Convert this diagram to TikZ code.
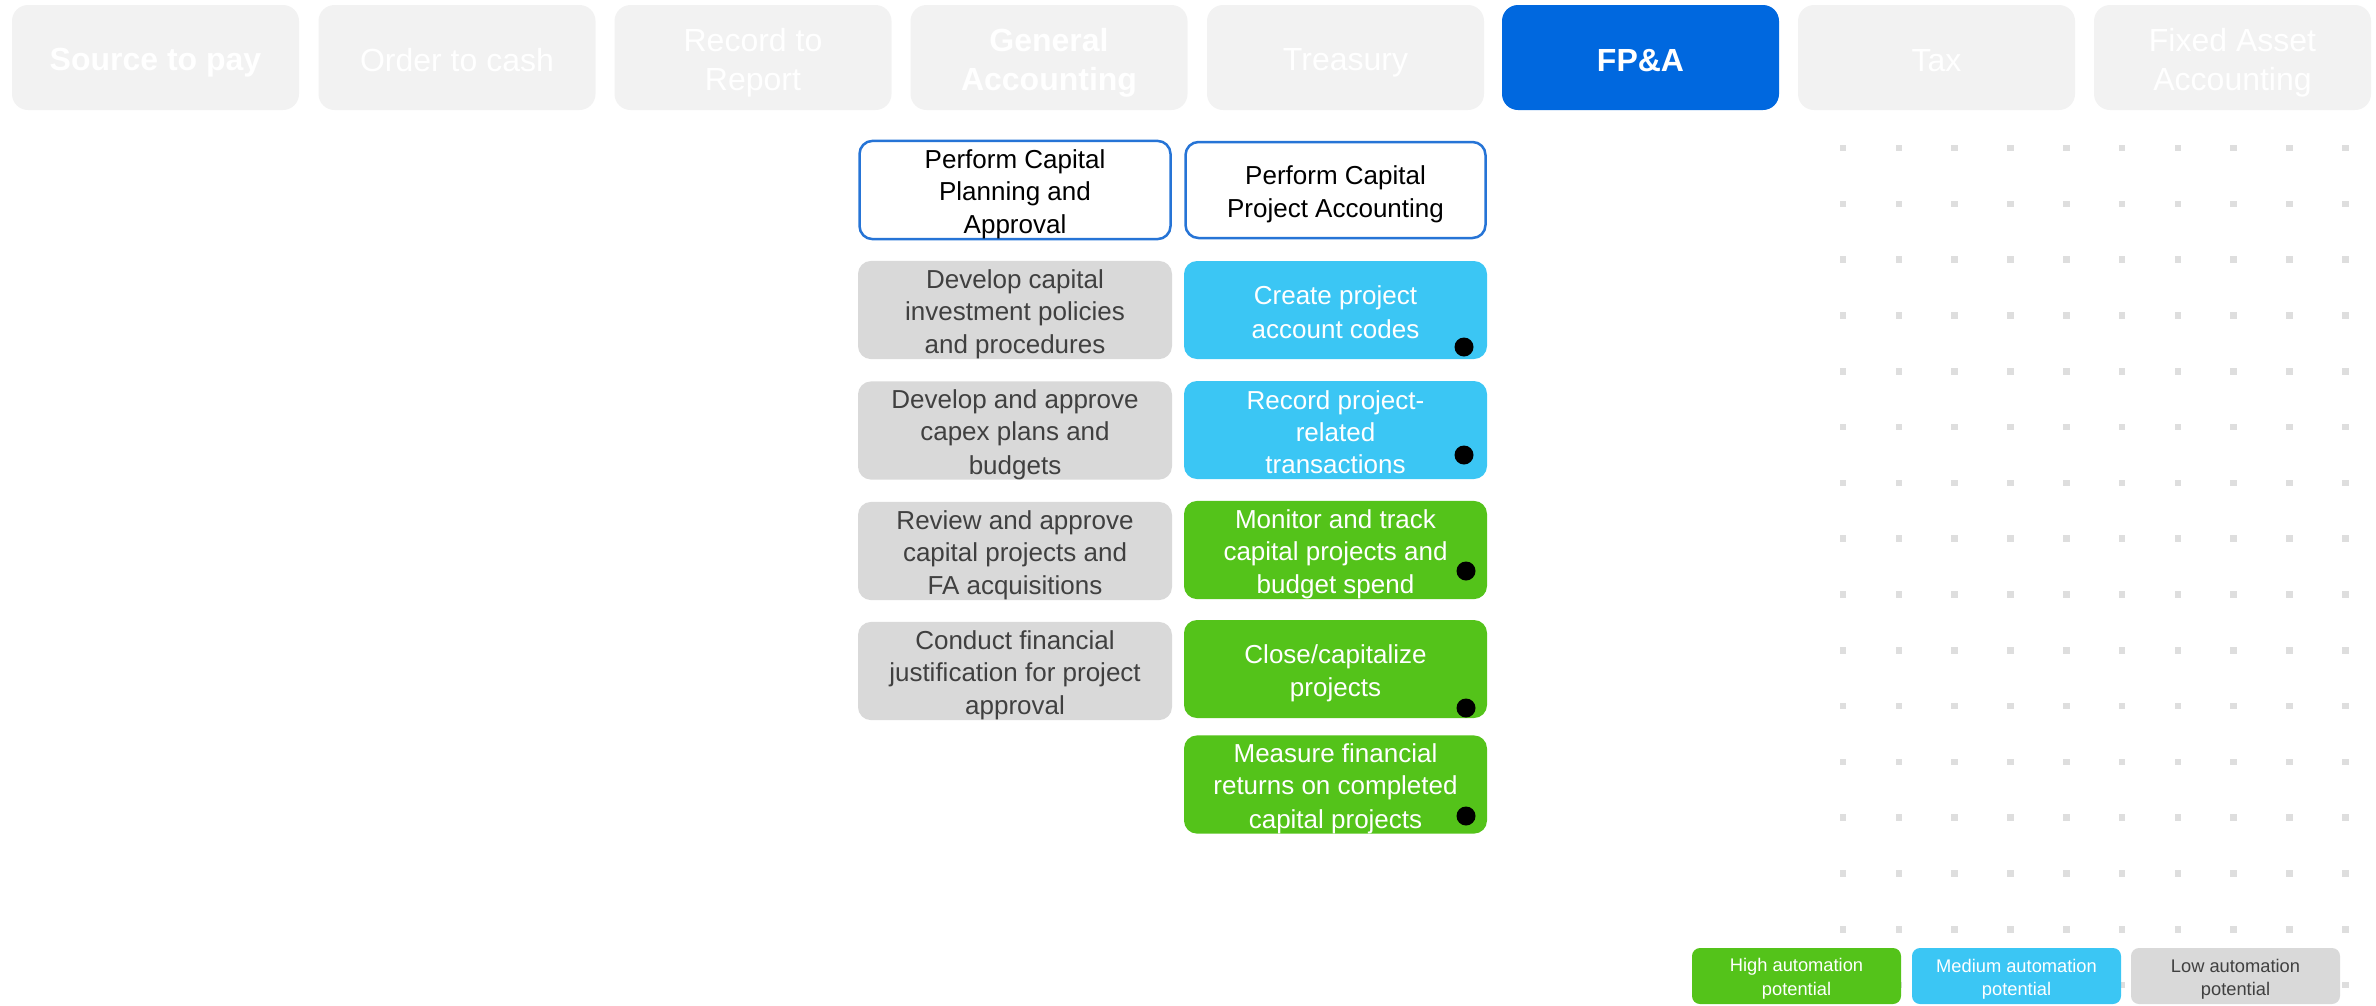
\documentclass[tikz,border=0pt]{standalone}
\usepackage{fontspec}
\setmainfont{Liberation Sans}
\usepackage{xcolor}
\definecolor{tabgray}{HTML}{F2F2F2}
\definecolor{fpablue}{RGB}{0,104,223}
\definecolor{headblue}{RGB}{38,116,214}
\definecolor{medcyan}{RGB}{59,198,244}
\definecolor{highgreen}{RGB}{84,195,26}
\definecolor{lowgray}{HTML}{D9D9D9}
\definecolor{darktext}{RGB}{64,64,64}
\definecolor{gridgray}{HTML}{DEDEDE}
\newcommand{\ls}{\rule[-.15\baselineskip]{0pt}{\baselineskip}}

\begin{document}
\begin{tikzpicture}
    [x=1pt, y=-1pt,
 tab/.style ={rectangle, fill=tabgray, text=white, rounded corners=16pt, minimum width=277pt, minimum height=105pt, inner sep=0pt, align=center, font=\fontsize{32}{39}\selectfont},
 tabon/.style ={tab, fill=fpablue, font=\fontsize{32}{39}\selectfont\bfseries},
 head/.style ={rectangle, draw=headblue, line width=2.5pt, fill=white, rounded corners=13pt, minimum height=96pt, inner sep=0pt, align=center, font=\fontsize{26}{32}\selectfont},
 task/.style ={rectangle, rounded corners=13pt, minimum height=98pt, inner sep=0pt, align=center, font=\fontsize{26}{32}\selectfont},
 low/.style ={task, fill=lowgray, text=darktext, minimum width=314pt},
 med/.style ={task, fill=medcyan, text=white, minimum width=303pt},
 high/.style ={task, fill=highgreen, text=white, minimum width=303pt},
 blackdot/.style ={circle, fill=black, minimum size=19pt, inner sep=0pt},
 key/.style ={rectangle, rounded corners=8pt, minimum width=209pt, minimum height=56pt, inner sep=0pt, align=center, font=\fontsize{18.3}{22.7}\selectfont}]
        \useasboundingbox (0,0) rectangle (2376,1005);
        % process tabs
        \node[tab, minimum width=287pt, font=\fontsize{32}{39}\selectfont\bfseries] (s2p) at (155.5, 57.5) {\ls Source to pay\ls};
        \node[tab] (o2c) at (457, 57.5) {\ls Order to cash\ls};
        \node[tab] (r2r) at (753, 57.5) {\ls Record to\\Report\ls};
        \node[tab, font=\fontsize{32}{39}\selectfont\bfseries] (gacc) at (1049, 57.5) {\ls General\\Accounting\ls};
        \node[tab] (treas) at (1345.5, 57.5) {\ls Treasury\ls};
        \node[tabon] (fpa) at (1640.5, 57.5) {\ls FP\&A\ls};
        \node[tab] (tax) at (1936.5, 57.5) {\ls Tax\ls};
        \node[tab] (faa) at (2232.5, 57.5) {\ls Fixed Asset\\Accounting\ls};
        % dot grid
        \foreach \i in {0,...,9}
          \foreach \j in {0,...,15}
            \fill[gridgray] (1843+55.8*\i-3.3, 148+55.8*\j-3.3) rectangle ++(6.6, 6.6);
        % planning column
        \node[head, minimum width=311pt] (plan) at (1015, 190) {\ls Perform Capital\\Planning and\\Approval\ls};
        \node[low] (plan1) at (1015, 310) {\ls Develop capital\\investment policies\\and procedures\ls};
        \node[low] (plan2) at (1015, 430.5) {\ls Develop and approve\\capex plans and\\budgets\ls};
        \node[low] (plan3) at (1015, 551) {\ls Review and approve\\capital projects and\\FA acquisitions\ls};
        \node[low] (plan4) at (1015, 671) {\ls Conduct financial\\justification for project\\approval\ls};
        % project accounting column
        \node[head, minimum width=300pt] (proj) at (1335.5, 190) {\ls Perform Capital\\Project Accounting\ls};
        \node[med] (proj1) at (1335.5, 310) {\ls Create project\\account codes\ls};
        \node[med] (proj2) at (1335.5, 430) {\ls Record project-\\related\\transactions\ls};
        \node[high] (proj3) at (1335.5, 550) {\ls Monitor and track\\capital projects and\\budget spend\ls};
        \node[high] (proj4) at (1335.5, 669) {\ls Close/capitalize\\projects\ls};
        \node[high] (proj5) at (1335.5, 784.5) {\ls Measure financial\\returns on completed\\capital projects\ls};
        \node[blackdot] (dot1) at (1464, 347) {};
        \node[blackdot] (dot2) at (1464, 455) {};
        \node[blackdot] (dot3) at (1466, 571) {};
        \node[blackdot] (dot4) at (1466, 708) {};
        \node[blackdot] (dot5) at (1466, 816) {};
        % legend
        \node[key, fill=highgreen, text=white] (keyhigh) at (1796.5, 976) {\ls High automation\\potential\ls};
        \node[key, fill=medcyan, text=white] (keymed) at (2016.5, 976) {\ls Medium automation\\potential\ls};
        \node[key, fill=lowgray, text=darktext] (keylow) at (2235.5, 976) {\ls Low automation\\potential\ls};
    \end{tikzpicture}
\end{document}
